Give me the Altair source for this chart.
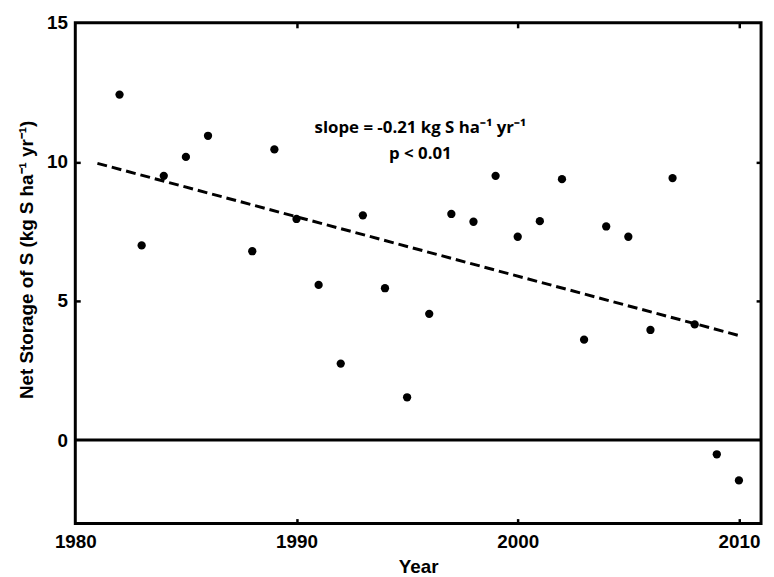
import altair as alt
import pandas as pd

# ---- data ----
years = [1982, 1983, 1984, 1985, 1986, 1988, 1989, 1990, 1991, 1992,
         1993, 1994, 1995, 1996, 1997, 1998, 1999, 2000, 2001, 2002,
         2003, 2004, 2005, 2006, 2007, 2008, 2009, 2010]
storage = [12.42, 7.00, 9.50, 10.18, 10.94, 6.79, 10.45, 7.95, 5.58, 2.75,
           8.08, 5.46, 1.54, 4.54, 8.13, 7.85, 9.50, 7.31, 7.87, 9.38,
           3.61, 7.68, 7.31, 3.96, 9.42, 4.16, -0.51, -1.45]
fit_years = [1981, 2010]
fit_values = [9.95, 3.76]
x_range = [1980, 2011]
y_range = [-3, 15]
x_ticks = [1980, 1990, 2000, 2010]
y_ticks = [0, 5, 10, 15]
note_lines = ["slope = -0.21 kg S ha\u207b\u00b9 yr\u207b\u00b9", "p < 0.01"]
note_x = [1995.6, 1995.6]
note_y = [11.21, 10.29]
zero_level = [0]

pts = pd.DataFrame({"year": years, "storage": storage})
fit = pd.DataFrame({"year": fit_years, "storage": fit_values})
notes = pd.DataFrame({"year": note_x, "storage": note_y, "label": note_lines})
zero = pd.DataFrame({"storage": zero_level})
box = pd.DataFrame({"x0": [x_range[0]], "x1": [x_range[1]],
                    "y0": [y_range[0]], "y1": [y_range[1]]})

FONT = "Liberation Sans"
xscale = alt.Scale(domain=x_range, nice=False, zero=False)
yscale = alt.Scale(domain=y_range, nice=False, zero=False)

def tick_axis(orient, values):
    return alt.Axis(orient=orient, values=values, labels=False, ticks=True,
                    tickSize=5, tickWidth=2.5, tickColor="black", offset=-5,
                    domain=False, grid=False, title=None)

points = alt.Chart(pts).mark_circle(size=70, color="black", opacity=1).encode(
    x=alt.X("year:Q", scale=xscale,
            axis=alt.Axis(orient="bottom", values=x_ticks, format="d", ticks=False,
                          domain=False, grid=False, title="Year",
                          labelFont=FONT, labelFontSize=19, labelFontWeight="bold",
                          labelColor="black", labelPadding=9, labelFlush=False,
                          titleFont=FONT, titleFontSize=19, titleFontWeight="bold",
                          titleColor="black", titlePadding=6)),
    y=alt.Y("storage:Q", scale=yscale,
            axis=alt.Axis(orient="left", values=y_ticks, format="d", ticks=False,
                          domain=False, grid=False,
                          title="Net Storage of S (kg S ha\u207b\u00b9 yr\u207b\u00b9)",
                          labelFont=FONT, labelFontSize=19, labelFontWeight="bold",
                          labelColor="black", labelPadding=8, labelFlush=False,
                          titleFont=FONT, titleFontSize=19, titleFontWeight="bold",
                          titleColor="black", titlePadding=10, titleY=239)),
)

line = alt.Chart(fit).mark_line(color="black", strokeWidth=3, strokeDash=[10, 5]).encode(
    x=alt.X("year:Q", scale=xscale, axis=tick_axis("bottom", [1990, 2000, 2010])),
    y=alt.Y("storage:Q", scale=yscale, axis=tick_axis("left", [5, 10])),
)

text = alt.Chart(notes).mark_text(font="Open Sans", fontSize=17, fontWeight="bold",
                                  color="black", align="center", baseline="middle").encode(
    x=alt.X("year:Q", scale=xscale, axis=tick_axis("top", [1990, 2000, 2010])),
    y=alt.Y("storage:Q", scale=yscale, axis=tick_axis("right", [5, 10])),
    text="label:N",
)

frame = alt.Chart(box).mark_rect(fill=None, stroke="black", strokeWidth=3).encode(
    x=alt.X("x0:Q", scale=xscale, axis=None),
    x2="x1:Q",
    y=alt.Y("y0:Q", scale=yscale, axis=None),
    y2="y1:Q",
)

zline = alt.Chart(zero).mark_rule(color="black", strokeWidth=3).encode(
    y=alt.Y("storage:Q", scale=yscale, axis=None),
)

chart = alt.layer(zline, line, points, text, frame).resolve_axis(
    x="independent", y="independent"
).properties(
    width=693, height=506,
    autosize=alt.AutoSizeParams(type="none"),
    padding={"left": 68, "top": 12, "right": 5, "bottom": 51},
).configure_view(
    stroke=None
).configure(background="white")

chart.save("out.html", embed_options={"renderer": "svg", "actions": False})
